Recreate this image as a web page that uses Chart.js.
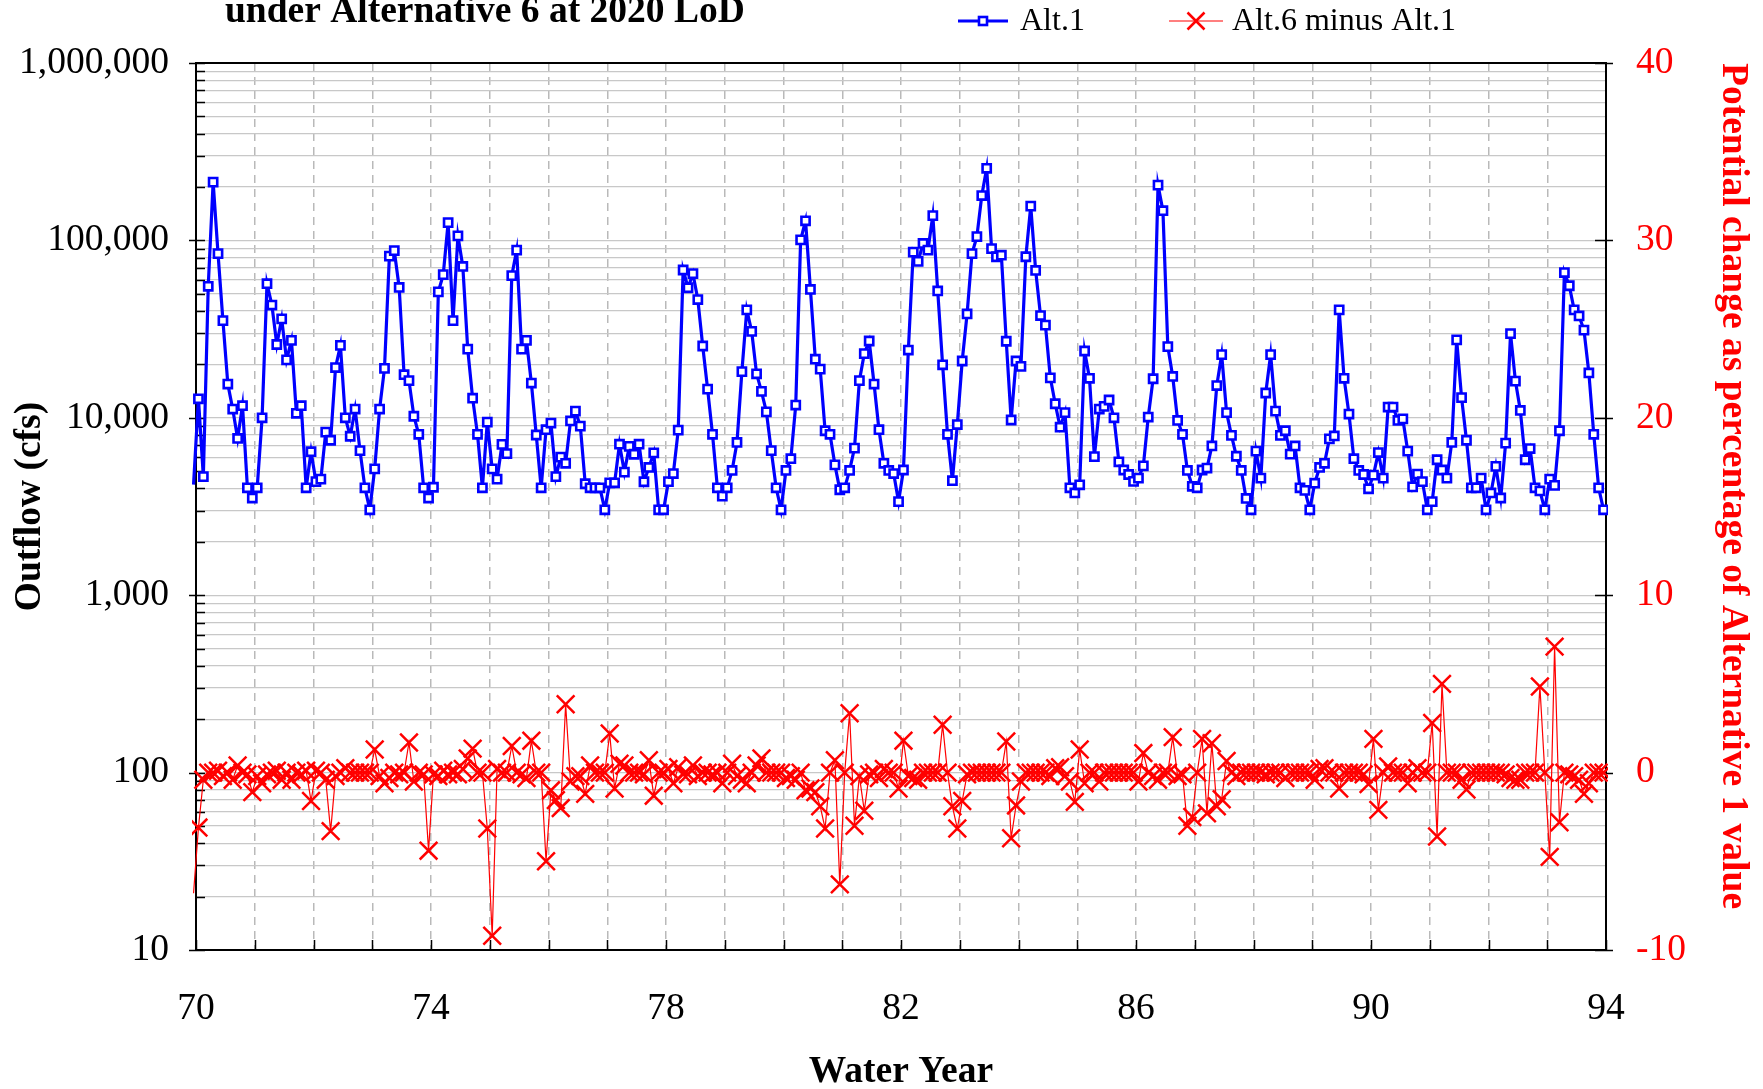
<!DOCTYPE html>
<html lang="en">
<head>
<meta charset="UTF-8">
<title>Outflow under Alternative 6 at 2020 LoD</title>
<script src="https://cdn.jsdelivr.net/npm/chart.js@4.4.1/dist/chart.umd.min.js"></script>
<style>
    body {
        margin: 0;
        background-color: #fff;
    }
    #wrap {
        width: 1763px;
        height: 1089px;
    }
</style>
</head>
<body>
<div id="wrap">
    <canvas id="outflowChart" width="1763" height="1089"></canvas>
</div>

<script>
// axis ticks
const yearLabels = [70, 74, 78, 82, 86, 90, 94];
const gridYears = [70, 71, 72, 73, 74, 75, 76, 77, 78, 79, 80, 81, 82, 83, 84, 85, 86, 87, 88, 89, 90, 91, 92, 93, 94];
const flowTicks = [10, 100, 1000, 10000, 100000, 1000000];
const changeTicks = [-10, 0, 10, 20, 30, 40];

// Alt.1 monthly outflow (cfs): Sep 1969, then one row per water year (Oct..Sep)
const alt1Flow = [
    4200,
    12800, 4660, 55100, 213000, 84200, 35300, 15500, 11200, 7650, 11700, 4030, 3530,
    4030, 10000, 57000, 43200, 25900, 36100, 21200, 27300, 10600, 11700, 4030, 6440,
    4370, 4510, 8300, 7470, 19200, 25600, 10000, 7870, 11200, 6530, 4030, 3030,
    5150, 11200, 19000, 81500, 87600, 54300, 17500, 16200, 10200, 8070, 4030, 3530,
    4060, 51300, 64100, 126000, 35300, 106000, 71300, 24400, 12900, 8070, 4030, 9460,
    5150, 4510, 7080, 6280, 63300, 88200, 24400, 27300, 15700, 8000, 4030, 8570,
    9340, 4660, 6000, 5540, 9600, 10900, 8980, 4250, 4030, 4030, 4030, 3030,
    4300, 4300, 7100, 4940, 6900, 6230, 7100, 4360, 5250, 6340, 3030, 3030,
    4370, 4850, 8520, 68100, 54100, 65000, 46400, 25400, 14500, 8070, 4030, 3620,
    4030, 5050, 7260, 18200, 40600, 30700, 17700, 14100, 10800, 6530, 4030, 3030,
    5050, 5880, 11800, 100700, 129000, 52900, 21400, 18800, 8450, 8070, 5430, 3930,
    4030, 5050, 6750, 16200, 23000, 27100, 15500, 8570, 5540, 5050, 4850, 3370,
    5080, 24100, 85900, 76200, 96100, 88200, 138000, 51900, 19900, 8070, 4420, 9160,
    20900, 38500, 84200, 105000, 179000, 255000, 89900, 80900, 82500, 27000, 9720, 20900,
    19500, 80900, 156000, 67700, 37700, 33300, 16800, 12000, 8850, 10700, 4030, 3770,
    4190, 23800, 16700, 6040, 11200, 11600, 12600, 10000, 5650, 5080, 4790, 4380,
    4570, 5360, 10100, 16600, 205000, 147000, 25200, 17100, 9660, 8070, 5050, 4110,
    4030, 5080, 5210, 6940, 15200, 22700, 10700, 7960, 6070, 5050, 3510, 3030,
    6490, 4570, 13800, 22700, 10900, 7960, 8450, 6240, 6940, 4030, 3900, 3030,
    4280, 5250, 5540, 7610, 7900, 40600, 16700, 10500, 5880, 5050, 4790, 3980,
    4750, 6370, 4570, 11500, 11500, 9660, 9860, 6490, 4080, 4820, 4370, 3030,
    3370, 5800, 5080, 4570, 7260, 27500, 13000, 7470, 4030, 4030, 4570, 3030,
    3770, 5320, 3530, 7200, 29800, 16100, 11000, 5800, 6710, 4030, 3870, 3030,
    4510, 4160, 8450, 65900, 55500, 40600, 37500, 31200, 17900, 8070, 4030, 3030
];

// Alt.6 minus Alt.1, percent of Alt.1 value, same months
const changePct = [
    -6.8,
    -3.1, -0.4, 0, 0, 0.1, -0.2, 0, -0.4, 0.4, 0, -0.1, -1.1,
    -0.2, -0.6, -0.1, 0, 0.1, -0.4, 0, -0.4, 0, -0.1, 0.1, -1.6,
    0.1, 0, -0.4, -3.3, -0.2, 0, 0.25, 0, 0, 0, 0, 0,
    1.3, -0.2, -0.6, -0.3, 0, -0.1, 0, 1.7, -0.5, 0, -0.1, -4.4,
    -0.1, -0.2, 0.1, -0.1, 0, -0.1, 0.2, 0.8, 1.35, 0, 0, -3.15,
    -9.2, 0.2, 0, 0, 1.5, 0, -0.1, -0.3, 1.8, 0, 0, -5.0,
    -1.0, -1.55, -2.0, 3.85, -0.5, -0.2, -0.2, -1.2, 0.4, 0, 0, 0,
    2.2, -0.9, 0.5, 0.4, 0, 0, 0, -0.1, 0.7, -1.3, 0, 0,
    0.2, -0.6, 0.3, -0.1, -0.1, 0.4, -0.2, 0, 0, -0.1, 0, -0.6,
    0, 0.5, -0.2, -0.4, -0.6, 0, 0.4, 0.8, 0, 0, 0, 0,
    -0.3, -0.2, -0.4, 0, -1.0, -0.9, -1.1, -1.9, -3.15, 0, 0.7, -6.3,
    0, 3.35, -3.0, -0.2, -2.15, -0.1, 0, -0.3, 0.2, 0, 0, -0.9,
    1.8, -0.2, -0.3, -0.4, 0, 0, 0, 0, 2.7, 0, -1.9, -3.15,
    -1.6, -0.1, 0, 0, 0, 0, 0, 0, 0, 1.75, -3.7, -1.85,
    -0.5, 0, 0, 0, 0, 0, -0.2, 0.25, 0.3, -0.2, -0.5, -1.65,
    1.3, -0.6, 0, 0, -0.5, 0, 0, 0, 0, 0, 0, 0,
    -0.5, 1.1, 0, -0.2, -0.4, 0, 0, 2.0, -0.2, -0.1, -3.0, -2.5,
    0, 1.9, -2.3, 1.65, -1.9, -1.5, 0.65, 0, -0.2, 0, 0, 0,
    0, 0, -0.1, 0, 0, 0, -0.3, 0, 0, 0, 0, 0,
    -0.4, 0.2, 0.25, 0, 0, -0.9, 0, 0, 0, 0, -0.1, -0.65,
    1.9, -2.1, 0, 0.35, 0, 0, 0, -0.6, 0, 0.25, 0, 0,
    2.8, -3.6, 5.0, 0, 0, 0, -0.4, -0.95, 0, 0, 0, 0,
    0, 0, 0, -0.1, -0.3, -0.4, -0.4, 0, 0, 0, 4.85, 0,
    -4.75, 7.1, -2.8, 0, -0.1, -0.2, -0.4, -1.2, -0.6, 0, 0, 0
];

const serif = '"Liberation Serif", "Times New Roman", serif';
const BLUE = '#0000ff';
const RED = '#ff0000';

// mid-month position on the water-year axis
const monthX = alt1Flow.map((_, i) => 70 + (i - 0.5) / 12);

// log axis: gridline at every 1..9 x decade, label only the decades
const flowGrid = flowTicks.flatMap(d => d === 1000000 ? [d] : [1, 2, 3, 4, 5, 6, 7, 8, 9].map(m => m * d));

// small tick marks drawn inside the frame
const tickMarks = {
    id: 'tickMarks',
    beforeDatasetsDraw(chart) {
        const { ctx, chartArea: a, scales } = chart;
        ctx.save();
        ctx.strokeStyle = '#000';
        ctx.lineWidth = 1.5;
        ctx.beginPath();
        scales.y.ticks.forEach(t => {
            const y = Math.round(scales.y.getPixelForValue(t.value)) + 0.5;
            const major = flowTicks.includes(t.value);
            ctx.moveTo(a.left - (major ? 7 : 0), y);
            ctx.lineTo(a.left + 9, y);
        });
        scales.y2.ticks.forEach(t => {
            const y = Math.round(scales.y2.getPixelForValue(t.value)) + 0.5;
            ctx.moveTo(a.right - 11, y);
            ctx.lineTo(a.right + 7, y);
        });
        scales.x.ticks.forEach(t => {
            const x = Math.round(scales.x.getPixelForValue(t.value)) + 0.5;
            ctx.moveTo(x, a.bottom);
            ctx.lineTo(x, a.bottom - 10);
        });
        ctx.stroke();
        ctx.restore();
    }
};

// second title line (first one is off the top) and the legend
const header = {
    id: 'header',
    afterDraw(chart) {
        const ctx = chart.ctx;
        ctx.save();
        ctx.fillStyle = '#000';
        ctx.textBaseline = 'alphabetic';
        ctx.font = 'bold 37.5px ' + serif;
        ctx.fillText('under Alternative 6 at 2020 LoD', 225, 22);

        ctx.font = '32px ' + serif;
        ctx.textBaseline = 'middle';
        const y = 21;

        // Alt.1
        ctx.strokeStyle = BLUE;
        ctx.lineWidth = 3.2;
        ctx.beginPath();
        ctx.moveTo(958, y);
        ctx.lineTo(1008, y);
        ctx.stroke();
        ctx.fillStyle = '#fff';
        ctx.lineWidth = 2.6;
        ctx.fillRect(979, y - 4, 8, 8);
        ctx.strokeRect(979, y - 4, 8, 8);
        ctx.fillStyle = '#000';
        ctx.fillText('Alt.1', 1020, y + 1);

        // Alt.6 minus Alt.1
        ctx.strokeStyle = RED;
        ctx.lineWidth = 1.2;
        ctx.beginPath();
        ctx.moveTo(1169, y);
        ctx.lineTo(1223, y);
        ctx.stroke();
        ctx.lineWidth = 2.5;
        ctx.beginPath();
        ctx.moveTo(1196 - 8.5, y - 8.5);
        ctx.lineTo(1196 + 8.5, y + 8.5);
        ctx.moveTo(1196 - 8.5, y + 8.5);
        ctx.lineTo(1196 + 8.5, y - 8.5);
        ctx.stroke();
        ctx.fillStyle = '#000';
        ctx.fillText('Alt.6 minus Alt.1', 1232, y + 1);
        ctx.restore();
    }
};

const ctx = document.getElementById('outflowChart').getContext('2d');
const chart = new Chart(ctx, {
    type: 'line',
    data: {
        datasets: [
            {
                label: 'Alt.1',
                data: alt1Flow.map((v, i) => ({ x: monthX[i], y: v })),
                yAxisID: 'y',
                borderColor: BLUE,
                borderWidth: 3.2,
                pointStyle: 'rect',
                pointRadius: c => c.dataIndex === 0 ? 0 : 5.8,
                pointBorderWidth: 2.6,
                pointBorderColor: BLUE,
                pointBackgroundColor: '#ffffff',
                clip: { left: 4, top: 2, right: 2, bottom: 2 }
            },
            {
                label: 'Alt.6 minus Alt.1',
                data: changePct.map((v, i) => ({ x: monthX[i], y: v })),
                yAxisID: 'y2',
                borderColor: RED,
                borderWidth: 1.2,
                pointStyle: 'crossRot',
                pointRadius: c => c.dataIndex === 0 ? 0 : 12.5,
                pointBorderWidth: 2.5,
                pointBorderColor: RED,
                pointBackgroundColor: RED,
                clip: { left: 4, top: 2, right: 2, bottom: 2 }
            }
        ]
    },
    options: {
        responsive: false,
        animation: false,
        events: [],
        layout: {
            padding: { top: 63, left: 0, right: 0, bottom: 0 }
        },
        plugins: {
            legend: { display: false },
            tooltip: { enabled: false },
            title: { display: false }
        },
        scales: {
            x: {
                type: 'linear',
                min: 70,
                max: 94,
                afterBuildTicks: s => { s.ticks = gridYears.map(v => ({ value: v })); },
                afterFit: s => { s.height = 139; },
                grid: {
                    color: '#b9b9b9',
                    lineWidth: 1.5,
                    drawTicks: false
                },
                border: { color: '#000', width: 2, dash: [8, 6] },
                ticks: {
                    autoSkip: false,
                    maxRotation: 0,
                    padding: 37,
                    color: '#000',
                    font: { family: serif, size: 37.5 },
                    callback: v => yearLabels.includes(v) ? String(v) : ''
                },
                title: {
                    display: true,
                    text: 'Water Year',
                    color: '#000',
                    font: { family: serif, size: 37.5, weight: 'bold' },
                    padding: { top: 0, bottom: -6 }
                }
            },
            y: {
                type: 'logarithmic',
                position: 'left',
                min: 10,
                max: 1000000,
                afterBuildTicks: s => { s.ticks = flowGrid.map(v => ({ value: v })); },
                afterFit: s => { s.width = 196; },
                grid: {
                    color: c => c.tick && c.tick.value === 1000000 ? '#000' : '#c8c8c8',
                    lineWidth: c => c.tick && c.tick.value === 1000000 ? 2 : 1.2,
                    drawTicks: false
                },
                border: { color: '#000', width: 2 },
                ticks: {
                    autoSkip: false,
                    padding: 27,
                    color: '#000',
                    font: { family: serif, size: 37.5 },
                    callback: v => flowTicks.includes(v) ? v.toLocaleString('en-US') : ''
                },
                title: {
                    display: true,
                    text: 'Outflow (cfs)',
                    color: '#000',
                    font: { family: serif, size: 37.5, weight: 'bold' },
                    padding: { top: 8, bottom: 0 }
                }
            },
            y2: {
                type: 'linear',
                position: 'right',
                min: -10,
                max: 40,
                afterBuildTicks: s => { s.ticks = changeTicks.map(v => ({ value: v })); },
                afterFit: s => { s.width = 157; },
                grid: { drawOnChartArea: false, drawTicks: false },
                border: { color: '#000', width: 2 },
                ticks: {
                    autoSkip: false,
                    padding: 30,
                    color: RED,
                    font: { family: serif, size: 37.5 }
                },
                title: {
                    display: true,
                    text: 'Potential change as percentage of Alternative 1 value',
                    align: 'end',
                    color: RED,
                    font: { family: serif, size: 37.5, weight: 'bold' },
                    padding: { top: 8, bottom: 0 }
                }
            }
        }
    },
    plugins: [tickMarks, header]
});
</script>
</body>
</html>
